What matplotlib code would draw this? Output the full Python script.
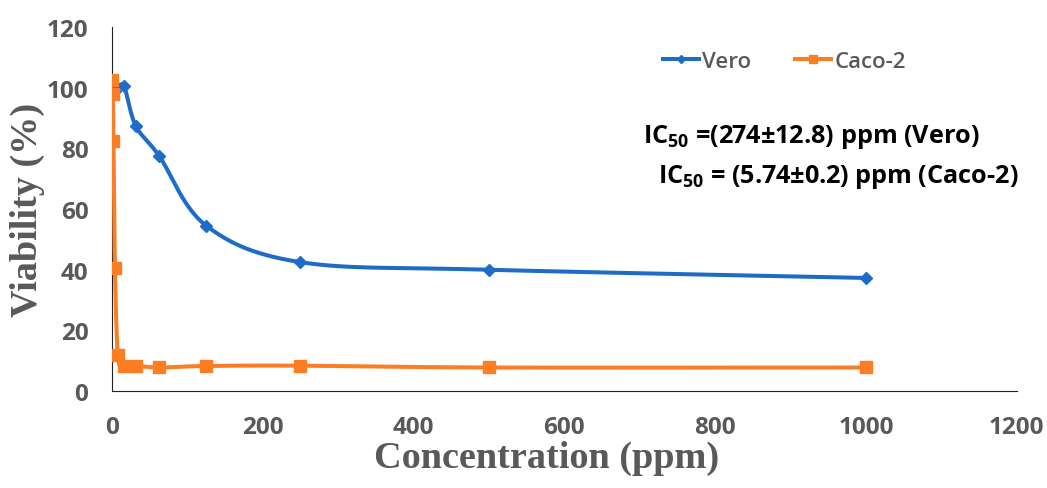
import matplotlib.pyplot as plt
import numpy as np

# data
vero_x = [3.9, 15.6, 31.25, 62.5, 125, 250, 500, 1000]
vero_y = [99, 100.5, 87.5, 77.5, 54.5, 42.5, 40, 37.3]
caco_x = [0.49, 0.98, 1.95, 3.9, 7.8, 15.6, 31.25, 62.5, 125, 250, 500, 1000]
caco_y = [102.5, 98, 82.5, 40.5, 11.8, 8.3, 8.4, 7.8, 8.3, 8.4, 7.8, 7.8]
x_ticks = [0, 200, 400, 600, 800, 1000, 1200]
y_ticks = [0, 20, 40, 60, 80, 100, 120]

GRAY = '#595959'
BLUE = '#1f6cc6'
ORANGE = '#fb7d24'
SANS = 'Open Sans'

plt.rcParams['font.family'] = SANS
plt.rcParams['font.weight'] = 'bold'


def smooth(xs, ys, n=30):
    # Excel-style smoothed line (Catmull-Rom through the points)
    p = np.column_stack([xs, ys]).astype(float)
    p = np.vstack([p[0], p, p[-1]])
    out = []
    for i in range(1, len(p) - 2):
        p0, p1, p2, p3 = p[i - 1], p[i], p[i + 1], p[i + 2]
        t = np.linspace(0, 1, n)[:, None]
        seg = 0.5 * ((2 * p1) + (-p0 + p2) * t + (2 * p0 - 5 * p1 + 4 * p2 - p3) * t ** 2
                     + (-p0 + 3 * p1 - 3 * p2 + p3) * t ** 3)
        out.append(seg)
    out = np.vstack(out)
    return out[:, 0], out[:, 1]


fig = plt.figure(figsize=(10.47, 4.89), dpi=100)
ax = fig.add_axes([0.107, 0.198, 0.864, 0.745])

sx, sy = smooth(vero_x, vero_y)
ax.plot(sx, sy, color=BLUE, lw=2.9, zorder=3)
ax.plot(vero_x, vero_y, ls='none', marker='D', ms=6, color=BLUE, zorder=4)
sx, sy = smooth(caco_x, caco_y)
ax.plot(sx, sy, color=ORANGE, lw=2.9, zorder=3)
ax.plot(caco_x, caco_y, ls='none', marker='s', ms=8, color=ORANGE, zorder=4)

ax.set_xlim(0, 1200)
ax.set_ylim(0, 120)
ax.set_xticks(x_ticks)
ax.set_yticks(y_ticks)
ax.tick_params(length=0, labelcolor=GRAY, labelsize=17.5)
ax.tick_params(axis='x', pad=17)
ax.tick_params(axis='y', pad=17)
for s in ['top', 'right']:
    ax.spines[s].set_visible(False)
ax.spines['left'].set_color('#222222')
ax.spines['bottom'].set_color('#222222')

ax.set_xlabel('Concentration (ppm)', family='Liberation Serif', weight='bold',
              color=GRAY, fontsize=27.5, labelpad=1, x=0.48)
ax.set_ylabel('Viability (%)', family='Liberation Serif', weight='bold',
              color=GRAY, fontsize=27.5, labelpad=1)

# legend
h1, = ax.plot([], [], color=BLUE, lw=2.9, marker='D', ms=4)
h2, = ax.plot([], [], color=ORANGE, lw=2.9, marker='s', ms=6)
leg = ax.legend([h1, h2], ['Vero', 'Caco-2'], loc='upper left', bbox_to_anchor=(0.587, 0.99),
                ncol=2, frameon=False, handlelength=1.6, handletextpad=0.15,
                columnspacing=2.0, prop={'family': SANS, 'size': 16, 'weight': 'semibold'})
for t in leg.get_texts():
    t.set_color(GRAY)

ax.text(0.587, 0.7, r'IC$_{\mathregular{50}}$ =(274±12.8) ppm (Vero)', transform=ax.transAxes,
        family=SANS, weight='bold', fontsize=18.2, va='center')
ax.text(0.604, 0.592, r'IC$_{\mathregular{50}}$ = (5.74±0.2) ppm (Caco-2)', transform=ax.transAxes,
        family=SANS, weight='bold', fontsize=18.2, va='center')

fig.savefig('out.png', dpi=100)
